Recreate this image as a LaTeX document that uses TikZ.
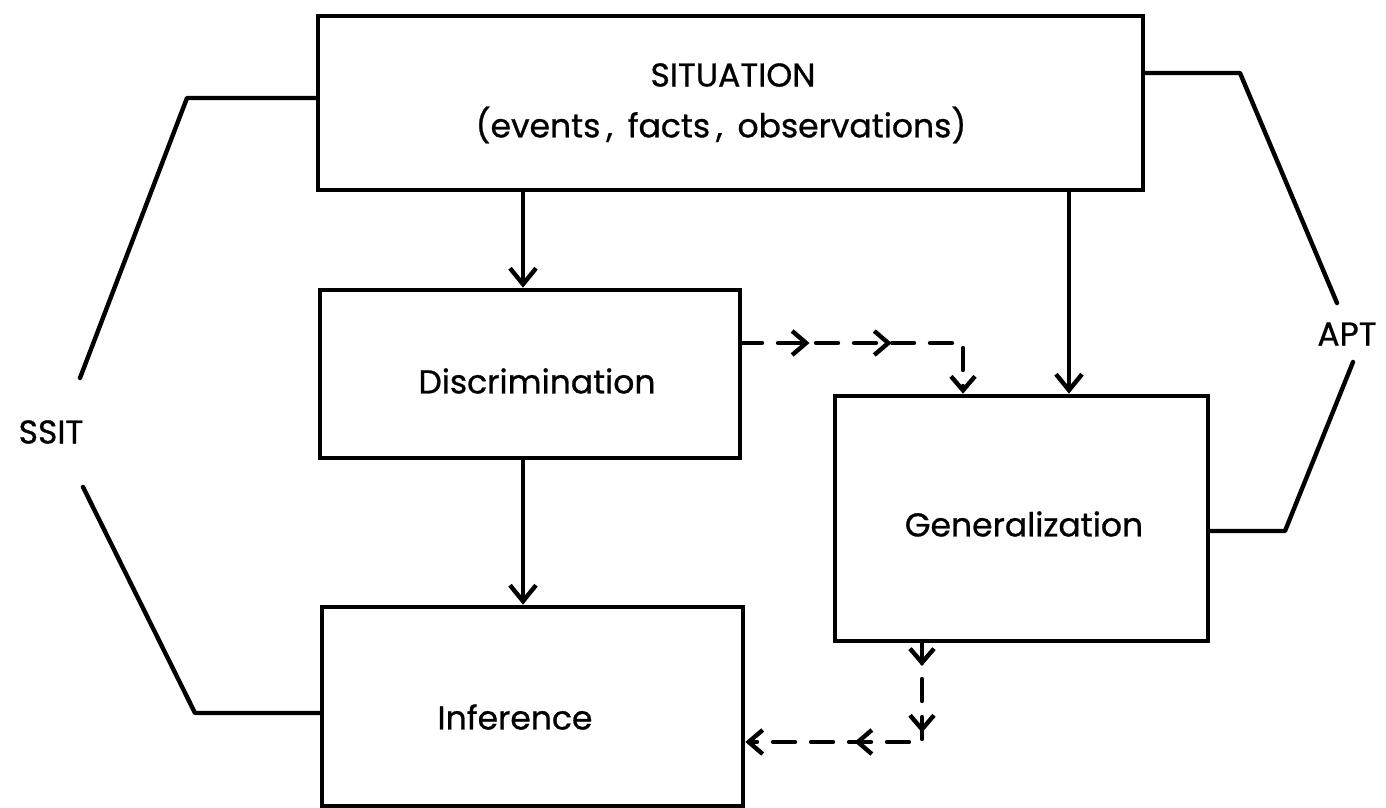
\documentclass[tikz,border=0pt]{standalone}
\usepackage{fontspec}
\setmainfont{Poppins}
\newfontfamily\lblfont{Poppins}[FakeBold=0.8]
\usetikzlibrary{arrows.meta,decorations.markings}
\tikzset{
  box/.style={draw, line width=2.3pt, inner sep=0pt},
  lbl/.style={font=\lblfont\fontsize{16.5}{20}\selectfont, inner sep=0pt},
  arr/.style={line width=2.2pt, -{Straight Barb[length=8pt,width=13pt]}},
  bracket/.style={line width=2.2pt, line join=round, line cap=round},
  dashline/.style={line width=2.2pt, dash pattern=on 11pt off 8pt, line cap=round,
                   -{Straight Barb[length=7pt,width=12pt]}},
  midtip/.style={decorate, decoration={markings,
     mark=at position #1 with {\arrow[line width=2.2pt]{Straight Barb[length=7pt,width=12pt]}}}},
}
\begin{document}
\begin{tikzpicture}[x=0.5pt,y=-0.5pt]
\useasboundingbox (0,0) rectangle (1386,808);
% boxes
\node[box, minimum width=412.5pt, minimum height=87pt] (sit) at (730.5,103) {};
\node[box, minimum width=210pt, minimum height=84pt] (disc) at (530,374) {};
\node[box, minimum width=186.5pt, minimum height=122.5pt] (gen) at (1021.5,518.5) {};
\node[box, minimum width=210.5pt, minimum height=99.5pt] (inf) at (532.5,706.5) {};
% texts
\node[lbl] (sitA) at (733,75) {SITUATION};
\node[lbl] (sitB) at (721,125) {(events\hspace{3pt}, \hspace{3pt}facts\hspace{3pt}, \hspace{3pt}observations)};
\node[lbl] (discT) at (537,381) {Discrimination};
\node[lbl] (genT) at (1024,524) {Generalization};
\node[lbl] (infT) at (515,717) {Inference};
\node[lbl] (ssit) at (51,432) {SSIT};
\node[lbl] (apt) at (1347,334) {APT};
% coordinates
\coordinate (xa) at (523,0);
\coordinate (xb) at (1069,0);
\coordinate (s1) at (187,98);
\coordinate (s2) at (80,378);
\coordinate (s3) at (83,487);
\coordinate (s4) at (195,713);
\coordinate (a1) at (1240,73);
\coordinate (a2) at (1337,303);
\coordinate (a3) at (1353,362);
\coordinate (a4) at (1285,531);
\coordinate (d1) at (740,343);
\coordinate (d2) at (963,343);
\coordinate (g1) at (922,641);
\coordinate (g2) at (922,742);
% solid arrows
\draw[arr] (sit.south -| xa) -- (disc.north -| xa);
\draw[arr] (disc.south -| xa) -- (inf.north -| xa);
\draw[arr] (sit.south -| xb) -- (gen.north -| xb);
% brackets
\draw[bracket] (sit.west |- s1) -- (s1) -- (s2);
\draw[bracket] (s3) -- (s4) -- (s4 -| inf.west);
\draw[bracket] (sit.east |- a1) -- (a1) -- (a2);
\draw[bracket] (a3) -- (a4) -- (a4 -| gen.east);
% dashed arrows
\draw[dashline, postaction={midtip=0.254}, postaction={midtip=0.554}]
   (d1) -- (d2) -- (d2 |- gen.north);
\draw[dashline, postaction={midtip=0.09}, postaction={midtip=0.33}, postaction={midtip=0.607}]
   (g1) -- (g2) -- (g2 -| inf.east);
\end{tikzpicture}
\end{document}
